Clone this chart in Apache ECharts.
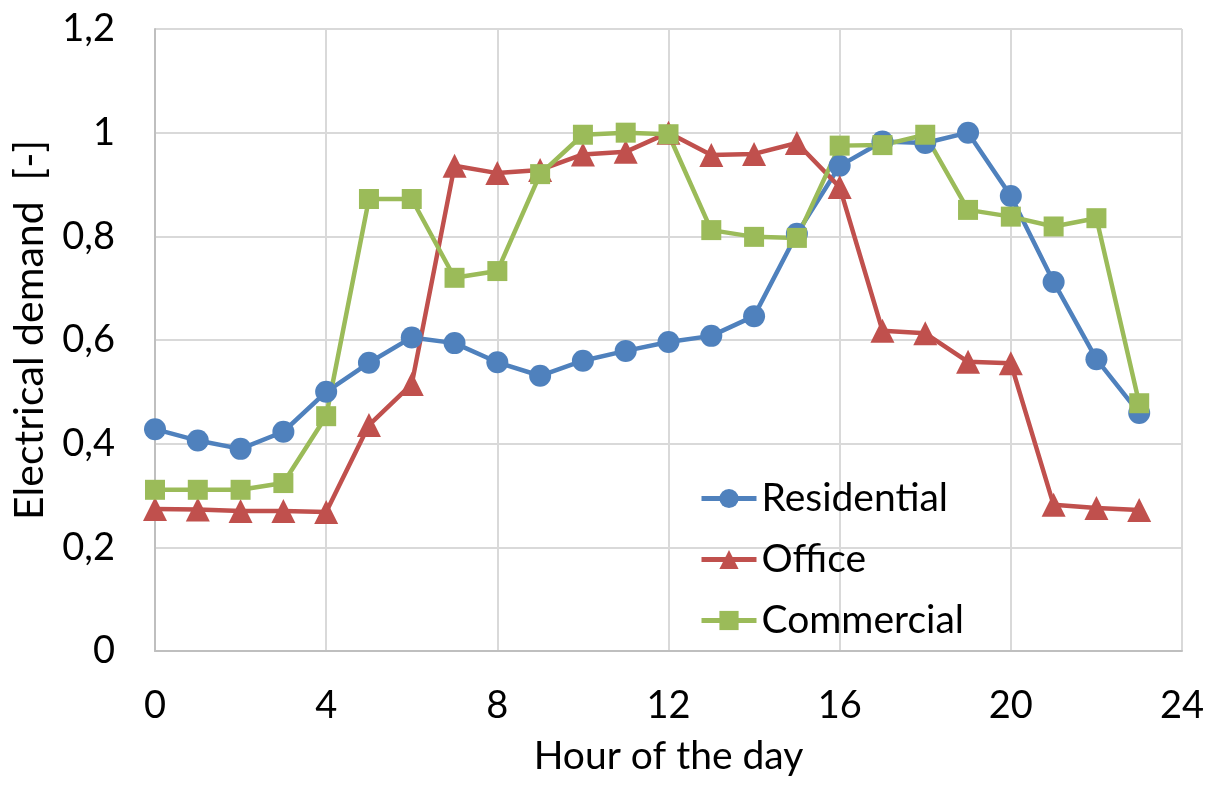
<!DOCTYPE html>
<html><head><meta charset="utf-8">
<script src="https://cdn.jsdelivr.net/npm/echarts@6/dist/echarts.min.js"></script>
<style>html,body{margin:0;padding:0;background:#fff}#c{width:1206px;height:787px}</style>
</head><body><div id="c"></div>
<script>
const hours = [0,1,2,3,4,5,6,7,8,9,10,11,12,13,14,15,16,17,18,19,20,21,22,23];
const residential = [0.428,0.406,0.390,0.423,0.500,0.556,0.605,0.594,0.557,0.531,0.560,0.579,0.596,0.608,0.646,0.805,0.936,0.983,0.980,1.000,0.878,0.712,0.563,0.459];
const office = [0.274,0.273,0.270,0.270,0.268,0.436,0.515,0.936,0.922,0.928,0.958,0.963,1.000,0.957,0.959,0.980,0.895,0.618,0.613,0.558,0.555,0.282,0.276,0.272];
const commercial = [0.311,0.311,0.311,0.324,0.453,0.872,0.872,0.720,0.733,0.920,0.996,1.000,0.997,0.812,0.799,0.797,0.975,0.976,0.996,0.851,0.838,0.819,0.835,0.478];
const seriesNames = ['Residential','Office','Commercial'];
const colors = ['#4F81BD','#C0504D','#9BBB59'];
const symbols = ['circle','triangle','rect'];
const FONT = 'Lato, "Open Sans", sans-serif';

const chart = echarts.init(document.getElementById('c'), null, {renderer:'canvas'});
const dataSets = [residential, office, commercial];
const series = dataSets.map((d,i)=>({
  name: seriesNames[i],
  type: 'line',
  data: hours.map((h,j)=>[h,d[j]]),
  symbol: symbols[i],
  symbolSize: i===1 ? 24 : (i===2 ? 20 : 22),
  lineStyle: {width: 4.5, color: colors[i]},
  itemStyle: {color: colors[i]},
  emphasis: {disabled: true},
  animation: false
}));
chart.setOption({
  animation: false,
  grid: {left: 155, right: 24, top: 29, bottom: 136, containLabel: false, outerBoundsMode: 'none'},
  legend: {
    data: seriesNames,
    orient: 'vertical',
    left: 694, top: 473,
    itemWidth: 55, itemHeight: 24, itemGap: 20,
    lineStyle: {width: 5},
    textStyle: {fontSize: 39, lineHeight: 41, fontFamily: FONT, color: '#000'}
  },
  xAxis: {
    type: 'value', min: 0, max: 24, interval: 4,
    name: 'Hour of the day', nameLocation: 'middle', nameGap: 86,
    nameTextStyle: {fontSize: 39, fontFamily: FONT, color: '#000'},
    axisLine: {show: true, lineStyle: {color: '#bfbfbf', width: 2}},
    axisTick: {show: false},
    axisLabel: {fontSize: 38, fontFamily: FONT, color: '#000', margin: 36},
    splitLine: {show: true, lineStyle: {color: '#d9d9d9', width: 2}}
  },
  yAxis: {
    type: 'value', min: 0, max: 1.2, interval: 0.2,
    name: 'Electrical demand  [-]', nameLocation: 'middle', nameGap: 105, nameRotate: 90,
    nameTextStyle: {fontSize: 41, fontFamily: FONT, color: '#000', padding: [0, 0, 0, 20]},
    axisLine: {show: true, lineStyle: {color: '#bfbfbf', width: 2}},
    axisTick: {show: false},
    axisLabel: {fontSize: 38, fontFamily: FONT, color: '#000', margin: 40,
      formatter: v => String(Math.round(v*10)/10).replace('.', ',')},
    splitLine: {show: true, lineStyle: {color: '#d9d9d9', width: 2}}
  },
  series: series
});
</script></body></html>
